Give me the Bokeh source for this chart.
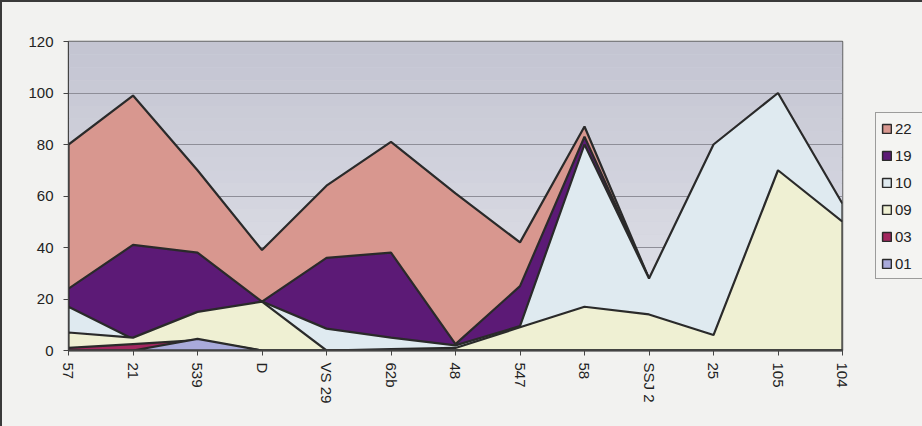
from bokeh.plotting import figure
from bokeh.models import Range1d, FixedTicker, Legend, LegendItem, BoxAnnotation
from bokeh.layouts import row
from bokeh.embed import file_html
from bokeh.resources import INLINE

categories = ["57", "21", "539", "D", "VS 29", "62b", "48", "547", "58", "SSJ 2", "25", "105", "104"]
series_names = ["22", "19", "10", "09", "03", "01"]
s22 = [80, 99, 70, 39, 64, 81, 61, 42, 87, 28, 0, 0, 0]
s19 = [24, 41, 38, 19, 36, 38, 2.5, 25, 83, 28, 0, 0, 0]
s10 = [17, 4.5, 10, 19, 8.5, 5, 2, 9.5, 80, 28, 80, 100, 57]
s09 = [7, 5, 15, 19, 0, 0.5, 1, 9, 17, 14, 6, 70, 50]
s03 = [1, 2.5, 4, 0, 0, 0, 0, 0, 0, 0, 0, 0, 0]
s01 = [0, 0, 4.5, 0, 0, 0, 0, 0, 0, 0, 0, 0, 0]
series_values = [s22, s19, s10, s09, s03, s01]
series_colors = ["#d8978f", "#5c1a76", "#dfeaf0", "#eff0d3", "#a3275f", "#a9aadb"]
y_ticks = [0, 20, 40, 60, 80, 100, 120]

PAGE_BG = "#f2f2f0"
x = list(range(len(categories)))
y_max = y_ticks[-1]

p = figure(width=848, height=424, output_backend="svg", toolbar_location=None,
           x_range=Range1d(0, len(categories) - 1), y_range=Range1d(0, y_max),
           min_border_left=66, min_border_right=8, min_border_top=39, min_border_bottom=76,
           background_fill_color="#d1d2de", border_fill_color=PAGE_BG)

# vertical gradient of the plot-area background (top darker, bottom lighter)
top_rgb = (195, 196, 209)
bot_rgb = (228, 229, 236)
n_bands = 24
for i in range(n_bands):
    t = (i + 0.5) / n_bands
    c = tuple(int(round(bot_rgb[k] + (top_rgb[k] - bot_rgb[k]) * t)) for k in range(3))
    p.add_layout(BoxAnnotation(bottom=y_max * i / n_bands, top=y_max * (i + 1) / n_bands,
                               fill_color="#%02x%02x%02x" % c, fill_alpha=1,
                               line_color=None, level="image"))

for name, vals, col in zip(series_names, series_values, series_colors):
    xs = x + x[::-1]
    ys = list(vals) + [0] * len(vals)
    p.patch(xs, ys, fill_color=col, line_color="#2a2a2a", line_width=2.2)

p.yaxis.ticker = FixedTicker(ticks=y_ticks)
p.yaxis.major_label_text_font = "Liberation Sans"
p.yaxis.major_label_text_font_size = "15px"
p.yaxis.major_label_text_color = "#222222"
p.yaxis.axis_line_color = "#444444"
p.yaxis.major_tick_line_color = "#444444"
p.yaxis.major_tick_out = 5
p.yaxis.major_tick_in = 0
p.yaxis.minor_tick_line_color = None
p.yaxis.major_label_standoff = 10

p.xaxis.ticker = FixedTicker(ticks=x)
p.xaxis.major_label_overrides = {i: c for i, c in zip(x, categories)}
p.xaxis.major_label_orientation = "vertical"
p.xaxis.major_label_text_font = "Liberation Sans"
p.xaxis.major_label_text_font_size = "15px"
p.xaxis.major_label_text_color = "#222222"
p.xaxis.axis_line_color = "#444444"
p.xaxis.axis_line_width = 2
p.xaxis.major_tick_line_color = "#444444"
p.xaxis.major_tick_out = 5
p.xaxis.major_tick_in = 0
p.xaxis.minor_tick_line_color = None
p.xaxis.major_label_standoff = 7

p.xgrid.visible = False
p.ygrid.grid_line_color = "#8e8e98"
p.ygrid.grid_line_width = 1
p.outline_line_color = "#666666"
p.outline_line_width = 1.5

# legend panel to the right of the plot area (frame aligned with the main plot's frame)
q = figure(width=72, height=424, output_backend="svg", toolbar_location=None,
           x_range=Range1d(0, 1), y_range=Range1d(0, 1),
           min_border_left=25, min_border_right=0, min_border_top=39, min_border_bottom=76,
           background_fill_color=PAGE_BG, border_fill_color=PAGE_BG)
q.axis.visible = False
q.grid.visible = False
q.outline_line_color = None
items = []
for name, vals, col in zip(series_names, series_values, series_colors):
    # single-point stand-in renderer (outside the visible range) used only for the legend swatch
    r = q.patch(x[:1], vals[:1], fill_color=col, line_color="#2a2a2a", line_width=1.5)
    items.append(LegendItem(label=name, renderers=[r]))
legend = Legend(items=items, location=(0, 71), orientation="vertical",
                border_line_color="#444444", border_line_width=1.5,
                background_fill_color="#f4f4f2", background_fill_alpha=1,
                label_text_font="Liberation Sans", label_text_font_size="15px",
                label_text_color="#222222", glyph_width=11, glyph_height=11,
                label_standoff=3, spacing=7, padding=5, margin=0, label_height=20,
                label_width=30)
q.add_layout(legend)

layout = row(p, q, spacing=0,
             styles={"border-top": "2px solid #3a3a3a", "border-left": "2px solid #3a3a3a",
                     "background-color": PAGE_BG})
open("out.html", "w").write(file_html(layout, INLINE))
